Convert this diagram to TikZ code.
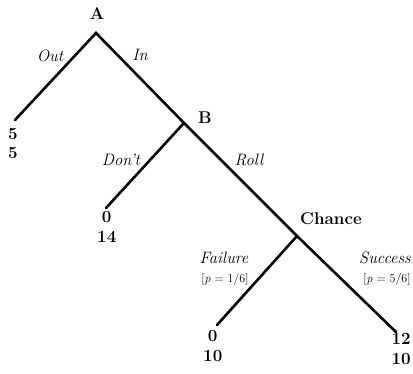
\documentclass[tikz,border=0pt]{standalone}
\begin{document}
\begin{tikzpicture}[x=1pt,y=-1pt,
  edge/.style={line width=2.6pt,line cap=round},
  player/.style={font=\fontsize{17}{19}\selectfont\bfseries},
  act/.style={font=\fontsize{16.5}{18}\selectfont\itshape},
  prob/.style={font=\fontsize{12}{14}\selectfont},
  pay/.style={font=\fontsize{17}{19}\selectfont\bfseries,align=center,inner sep=0pt}]
\useasboundingbox (0,0) rectangle (413,373);
\coordinate (A) at (96,33);
\coordinate (B) at (184,123);
\coordinate (C) at (297,236);
\coordinate (LO) at (15,120);
\coordinate (LD) at (106,208);
\coordinate (LF) at (217,325);
\coordinate (LS) at (396,332);
\draw[edge] (LO) -- (A) -- (B) -- (C) -- (LS);
\draw[edge] (B) -- (LD);
\draw[edge] (C) -- (LF);
\node[player] (nA) at (97,14) {A};
\node[player] (nB) at (205,118) {B};
\node[player] (nC) at (331,219) {Chance};
\node[act] (tOut) at (50,56) {Out};
\node[act] (tIn) at (140,55) {In};
\node[act] (tDont) at (121,160) {Don't};
\node[act] (tRoll) at (249,160) {Roll};
\node[act] (tFail) at (224,258) {Failure};
\node[prob] (pFail) at (225,279) {[\textit{p} = 1/6]};
\node[act] (tSucc) at (385,258) {Success};
\node[prob] (pSucc) at (387,279) {[\textit{p} = 5/6]};
\node[pay,anchor=north west] (vO) at (8,128) {5\\[0pt]5};
\node[pay,anchor=north west] (vD) at (97,211) {0\\[1pt]14};
\node[pay,anchor=north west] (vF) at (203,330) {0\\[1pt]10};
\node[pay,anchor=north east] (vS) at (411,333) {12\\[1pt]10};
\end{tikzpicture}
\end{document}
